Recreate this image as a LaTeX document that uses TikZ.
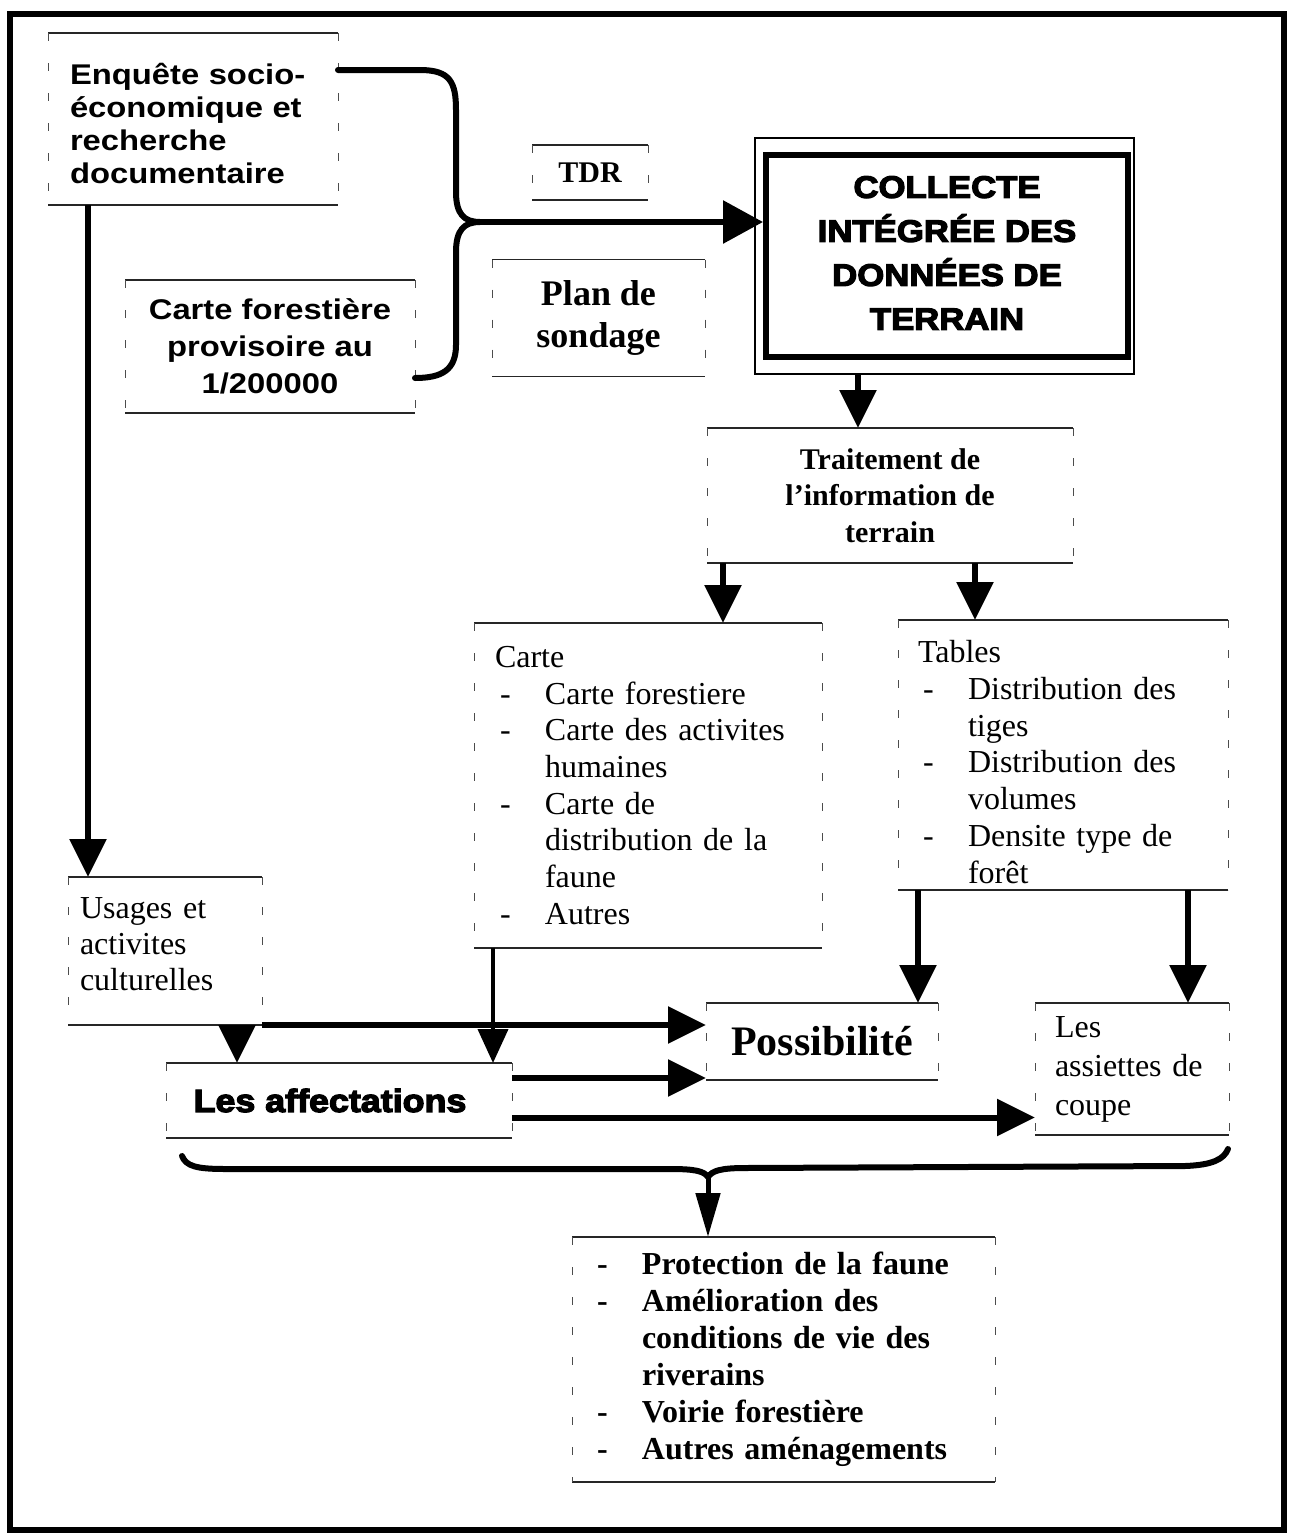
\documentclass[tikz,border=0pt]{standalone}
\usepackage{fontspec}
\setmainfont{Liberation Serif}
\newfontfamily\sansfnt{Liberation Sans}[FakeStretch=1.15]
\newfontfamily\heavyfnt{Liberation Sans}[UprightFont=* Bold, FakeBold=4, FakeStretch=1.12]
\usetikzlibrary{arrows.meta}
\newcommand\dashitem{\makebox[50pt][l]{\hspace*{5pt}-}}
\newcommand\inditem{\hspace*{50pt}}
\tikzset{
  topl/.style={line width=1.5pt, draw=black!85},
  sidel/.style={line width=0.9pt, draw=black!70, dash pattern=on 8pt off 22pt},
  sbox/.style={draw=none, inner sep=0pt, outer sep=0pt,
    append after command={
      (\tikzlastnode.north west) edge[topl] (\tikzlastnode.north east)
      (\tikzlastnode.south west) edge[topl] (\tikzlastnode.south east)
      (\tikzlastnode.north west) edge[sidel] (\tikzlastnode.south west)
      (\tikzlastnode.north east) edge[sidel] (\tikzlastnode.south east)}},
  txt/.style={inner sep=0pt, outer sep=0pt},
  arr/.style={line width=6pt, -{Triangle[width=36pt,length=38pt]}},
  arrbig/.style={line width=6pt, -{Triangle[width=42pt,length=40pt]}},
  arrthin/.style={line width=4pt, -{Triangle[width=30pt,length=34pt]}},
  arrnarrow/.style={line width=5pt, -{Triangle[width=24pt,length=44pt]}},
  brc/.style={line width=6pt, line cap=round, line join=round},
  sansbold/.style={font=\sansfnt\bfseries\fontsize{28.5}{#1}\selectfont},
  serifbold/.style={font=\bfseries\fontsize{30}{#1}\selectfont},
  serifreg/.style={font=\fontsize{32}{#1}\selectfont},
}
\begin{document}
\begin{tikzpicture}[x=1pt,y=-1pt]
\useasboundingbox (0,0) rectangle (1295,1537);
\fill[white] (0,0) rectangle (1295,1537);
% outer frame
\draw[line width=6pt] (10,14) rectangle (1284,1530);

% boxes
\node[sbox, minimum width=290pt, minimum height=172pt] (enq) at (193,119) {};
\node[txt, text width=246pt, align=left, sansbold=33] (enqt) at ([yshift=-4pt]enq.center)
  {Enquête socio-\\économique et\\recherche\\documentaire};
\node[sbox, minimum width=290pt, minimum height=133pt, align=center, sansbold=37] (cfp) at (270,346.5)
  {Carte forestière\\provisoire au\\1/200000};
\node[sbox, minimum width=116pt, minimum height=55pt, serifbold=36] (tdr) at (590,172.5) {TDR};
\node[sbox, minimum width=213pt, minimum height=117pt, align=center, font=\bfseries\fontsize{36}{42}\selectfont] (plan) at (598.5,318)
  {Plan de\\sondage};
\node[draw, line width=6pt, inner sep=0pt, minimum width=362pt, minimum height=202pt] (col) at (947,256) {};
\node[txt, align=center, font=\heavyfnt\fontsize{31}{44}\selectfont] (colt) at ([yshift=3pt]col.center)
  {COLLECTE\\INTÉGRÉE DES\\DONNÉES DE\\TERRAIN};
\draw[line width=1.5pt] ([shift={(-8,-14)}]col.north west) rectangle ([shift={(3,14)}]col.south east);
\node[sbox, minimum width=366pt, minimum height=135pt, align=center, serifbold=36.5] (trt) at (890,495.5)
  {Traitement de\\l’information de\\terrain};
\node[sbox, minimum width=348pt, minimum height=325pt, text width=306pt, align=left, serifreg=36.7] (carte) at (648,785.5)
  {Carte\\
   \dashitem Carte forestiere\\
   \dashitem Carte des activites\\
   \inditem humaines\\
   \dashitem Carte de\\
   \inditem distribution de la\\
   \inditem faune\\
   \dashitem Autres};
\node[sbox, minimum width=330pt, minimum height=270pt] (tab) at (1063,755) {};
\node[txt, text width=290pt, align=left, serifreg=36.7] (tabt) at ([yshift=-7pt]tab.center)
  {Tables\\
   \dashitem Distribution des\\
   \inditem tiges\\
   \dashitem Distribution des\\
   \inditem volumes\\
   \dashitem Densite type de\\
   \inditem forêt};
\node[sbox, minimum width=194pt, minimum height=148pt] (us) at (165,951) {};
\node[txt, text width=170pt, align=left, serifreg=36] (ust) at ([yshift=7pt]us.center)
  {Usages et\\activites\\culturelles};
\node[sbox, minimum width=232pt, minimum height=77pt, font=\bfseries\fontsize{42}{48}\selectfont] (pos) at (822,1041.5) {Possibilité};
\node[sbox, minimum width=194pt, minimum height=132pt, text width=154pt, align=left, serifreg=39] (ass) at (1132,1069)
  {Les\\assiettes de\\coupe};
\node[sbox, minimum width=346pt, minimum height=75pt, font=\heavyfnt\fontsize{32}{36}\selectfont] (aff) at (339,1100.5) {\hspace*{-18pt}Les affectations};
\node[sbox, minimum width=423pt, minimum height=245pt, text width=383pt, align=left, font=\bfseries\fontsize{32}{37}\selectfont] (prot) at (783.5,1359.5)
  {\dashitem Protection de la faune\\
   \dashitem Amélioration des\\
   \inditem conditions de vie des\\
   \inditem riverains\\
   \dashitem Voirie forestière\\
   \dashitem Autres aménagements};

% top brace
\coordinate (btip) at (480,222);
\draw[brc] ([yshift=-37pt]enq.north east) -- (420,70) .. controls (450,70) and (456,82) .. (456,110)
  -- (456,192) .. controls (456,214) and (464,222) .. (btip)
  .. controls (464,222) and (456,230) .. (456,252) -- (456,345)
  .. controls (456,370) and (442,378) .. ([yshift=-31.5pt]cfp.east);
\draw[arrbig] (btip) -- (btip -| col.west);

% connectors
\coordinate (e1) at ([xshift=40pt]enq.south west);
\draw[arr] (e1) -- (e1 |- us.north);
\coordinate (c1) at ([shift={(-89,14)}]col.south);
\draw[arr] (c1) -- (c1 |- trt.north);
\coordinate (t1) at ([xshift=16pt]trt.south west);
\draw[arr] (t1) -- (t1 |- carte.north);
\coordinate (t2) at ([xshift=-98pt]trt.south east);
\draw[arr] (t2) -- (t2 |- tab.north);
\coordinate (b1) at ([xshift=20pt]tab.south west);
\draw[arr] (b1) -- (b1 |- pos.north);
\coordinate (b2) at ([xshift=-40pt]tab.south east);
\draw[arr] (b2) -- (b2 |- ass.north);
\coordinate (k1) at ([xshift=19pt]carte.south west);
\draw[arrthin] (k1) -- (k1 |- aff.north);
\coordinate (u1) at ([xshift=-25pt]us.south east);
\draw[arr] (u1) -- (u1 |- aff.north);
\draw[arr] (us.south east) -- (us.south east -| pos.west);
\coordinate (a1) at ([yshift=22.5pt]aff.east);
\draw[arr] (a1) -- (a1 -| pos.west);
\coordinate (a2) at ([yshift=-17pt]aff.east);
\draw[arr] (a2) -- (a2 -| ass.west);

% bottom brace
\coordinate (bb) at (708,1177);
\draw[brc] (182,1156) .. controls (186,1166) and (196,1169) .. (225,1169) -- (670,1169)
  .. controls (695,1169) and (704,1171) .. (bb)
  .. controls (712,1171) and (720,1168) .. (745,1168) -- (1185,1166)
  .. controls (1213,1165) and (1224,1159) .. (1228,1149);
\draw[arrnarrow] (bb) -- (bb |- prot.north);
\end{tikzpicture}
\end{document}
